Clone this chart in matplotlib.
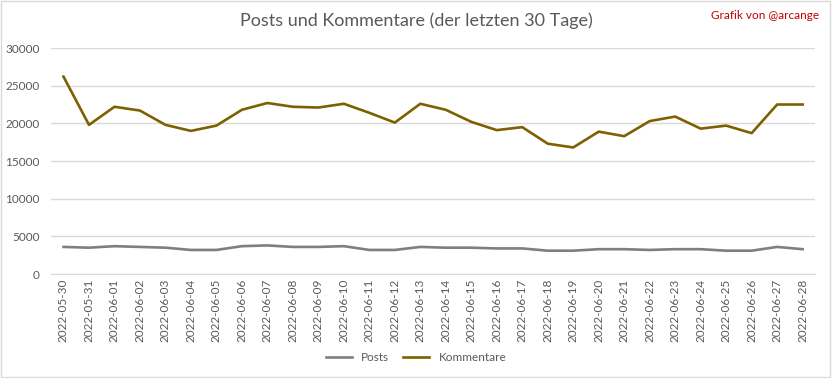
import matplotlib.pyplot as plt
import numpy as np

dates = ['2022-05-30', '2022-05-31'] + ['2022-06-%02d' % d for d in range(1, 29)]
posts = [3600, 3500, 3700, 3600, 3500, 3200, 3200, 3700, 3800, 3600,
         3600, 3700, 3200, 3200, 3600, 3500, 3500, 3400, 3400, 3100,
         3100, 3300, 3300, 3200, 3300, 3300, 3100, 3100, 3600, 3300]
kommentare = [26200, 19800, 22200, 21700, 19800, 19000, 19700, 21800, 22700, 22200,
              22100, 22600, 21400, 20100, 22600, 21800, 20200, 19100, 19500, 17300,
              16800, 18900, 18300, 20300, 20900, 19300, 19700, 18700, 22500, 22500]

plt.rcParams['font.family'] = ['Lato', 'DejaVu Sans']
txt = '#595959'

fig = plt.figure(figsize=(8.32, 3.78), dpi=100)
ax = fig.add_axes([0.061, 0.275, 0.919, 0.598])
x = np.arange(len(dates))
ax.plot(x, posts, color='#7f7f7f', lw=1.9, label='Posts')
ax.plot(x, kommentare, color='#7f6000', lw=1.9, label='Kommentare')

ax.set_xlim(-0.5, len(dates) - 0.5)
ax.set_ylim(0, 30000)
ax.set_yticks(range(0, 30001, 5000))
ax.set_xticks(x)
ax.set_xticklabels(dates, rotation=90)
ax.tick_params(axis='both', length=0, labelsize=8.5, colors=txt)
ax.tick_params(axis='y', pad=8)
ax.grid(axis='y', color='#d9d9d9', lw=1)
ax.set_axisbelow(True)
for s in ['top', 'right', 'left']:
    ax.spines[s].set_visible(False)
ax.spines['bottom'].set_color('#d9d9d9')

fig.text(0.5, 0.945, 'Posts und Kommentare (der letzten 30 Tage)', ha='center', va='center',
         fontsize=13, color=txt)
fig.text(0.985, 0.96, 'Grafik von @arcange', ha='right', va='center', fontsize=8.5, color='#c00000')
fig.legend(loc='center', bbox_to_anchor=(0.5, 0.055), ncol=2, frameon=False,
           fontsize=8.5, labelcolor=txt, handlelength=2.2, columnspacing=1.2)

fig.patches.append(plt.Rectangle((0.001, 0.002), 0.997, 0.995, transform=fig.transFigure,
                                 fill=False, edgecolor='#d9d9d9', lw=1))
fig.savefig('out.png', dpi=100)
